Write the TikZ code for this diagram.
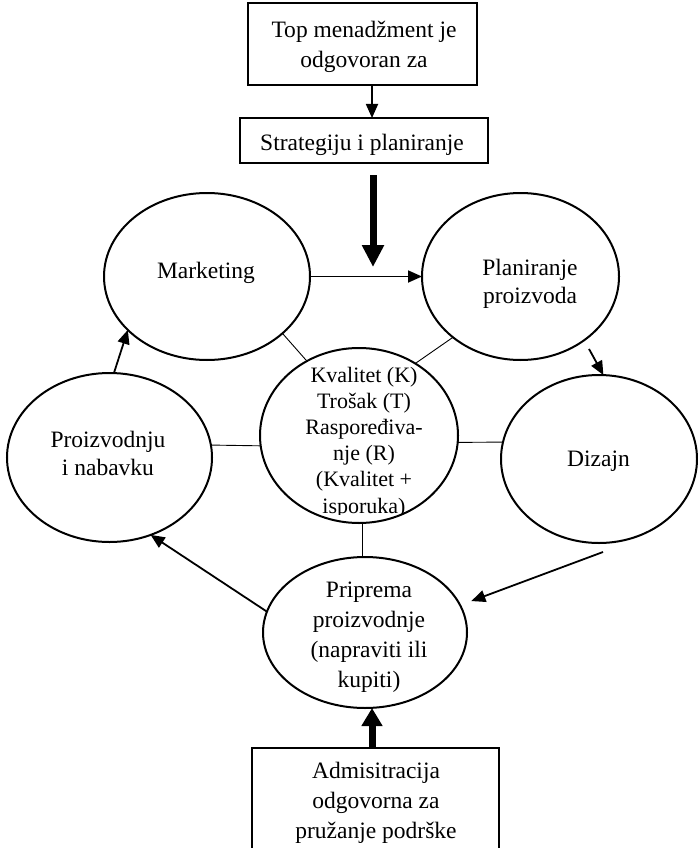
\documentclass[tikz,border=0pt]{standalone}
\usepackage{fontspec}
\setmainfont{Liberation Serif}
\usetikzlibrary{shapes.geometric,arrows.meta}
\begin{document}
\begin{tikzpicture}[x=1pt,y=-1pt,
  ell/.style={ellipse,draw,line width=2pt,inner sep=0pt,outer sep=0pt},
  box/.style={rectangle,draw,line width=1.6pt,inner sep=0pt,outer sep=0pt},
  lbl/.style={align=center,inner sep=0pt,font=\fontsize{23.5}{30}\selectfont},
  arr/.style={line width=1.8pt,-{Triangle[length=14pt,width=12pt]}},
  bigarr/.style={line width=7pt,-{Triangle[length=22pt,width=21pt]}},
  link/.style={line width=0.9pt}]
\useasboundingbox (0,0) rectangle (698,848);
% boxes
\node[box,minimum width=229pt,minimum height=82pt] (top) at (362.5,44) {};
\node[lbl] (topT) at (364,46.6) {Top menadžment je\\odgovoran za};
\node[box,minimum width=248pt,minimum height=45pt] (strat) at (364,140.5) {};
\node[lbl] (stratT) at (362,144.5) {Strategiju i planiranje};
% ellipses
\node[ell,minimum width=206pt,minimum height=167pt] (mkt) at (207,276.5) {};
\node[lbl] (mktT) at (206,272.5) {Marketing};
\node[ell,minimum width=197pt,minimum height=167pt] (plan) at (520.5,276.5) {};
\node[lbl,font=\fontsize{23.5}{28}\selectfont] (planT) at (530,283.6) {Planiranje\\proizvoda};
\node[ell,minimum width=205pt,minimum height=169pt] (pro) at (109.5,457.5) {};
\node[lbl,font=\fontsize{23.5}{28}\selectfont] (proT) at (108,453) {Proizvodnju\\i nabavku};
\node[ell,minimum width=198pt,minimum height=175pt] (cen) at (359,435.5) {};
\begin{scope}
  \clip (250,340) rectangle (470,514);
  \node[lbl,font=\fontsize{22}{26.2}\selectfont] (cenT) at (364,442.3) {Kvalitet (K)\\Trošak (T)\\Raspoređiva-\\nje (R)\\(Kvalitet +\\isporuka)};
\end{scope}
\node[ell,minimum width=196pt,minimum height=168pt] (diz) at (599,459) {};
\node[lbl] (dizT) at (598.5,461.5) {Dizajn};
\node[ell,minimum width=204pt,minimum height=151pt] (prip) at (365,632.5) {};
\node[lbl] (pripT) at (369,637) {Priprema\\proizvodnje\\(napraviti ili\\kupiti)};
\node[box,minimum width=247pt,minimum height=132pt] (adm) at (375.5,814) {};
\node[lbl] (admT) at (376,802.5) {Admisitracija\\odgovorna za\\pružanje podrške};
% arrows
\coordinate (ax) at (372,0);
\draw[arr] (top.south -| ax) -- (strat.north -| ax);
\coordinate (tk0) at (373,175);
\coordinate (tk1) at (373,267);
\draw[bigarr] (tk0) -- (tk1);
\draw[arr] (mkt.east) -- (plan.west);
\draw[arr] (pro.87) -- (mkt.214);
\draw[arr,shorten <=10pt] (plan.315) -- (diz.87);
\coordinate (dz1) at (603,552);
\draw[arr,shorten >=12pt] (dz1) -- (prip.16);
\draw[arr] (prip.168) -- (pro.298);
\draw[line width=7pt,-{Triangle[length=18pt,width=20pt]}] (adm.north -| ax) -- (prip.south -| ax);
% thin links
\draw[link] (mkt.323) -- (cen.125);
\draw[link] (plan.222) -- (cen.52);
\draw[link] (pro.7) -- (cen.186);
\draw[link] (cen.356) -- (diz.170);
\draw[link] (cen.272) -- (cen.272 |- prip.north);
\end{tikzpicture}
\end{document}
